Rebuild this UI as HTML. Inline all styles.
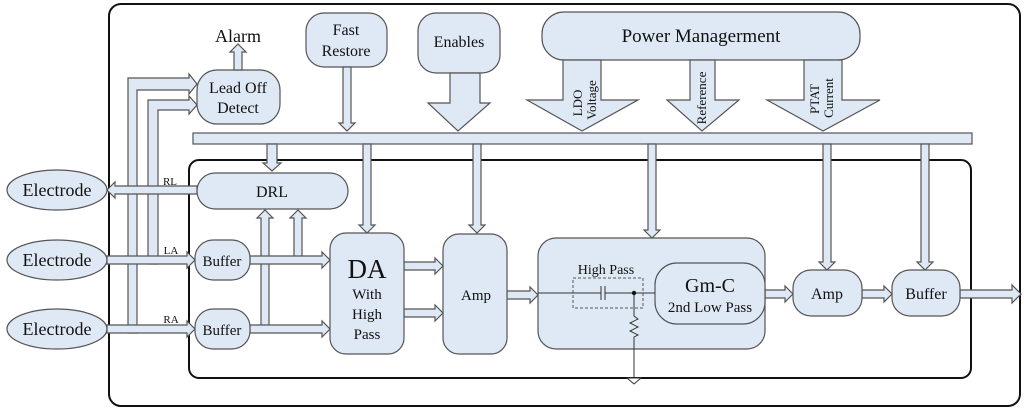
<!DOCTYPE html>
<html><head><meta charset="utf-8"><style>
html,body{margin:0;padding:0;background:#fff;}
svg{display:block;}
text{font-family:"Liberation Serif","Times New Roman",serif;fill:#111;}
</style></head><body>
<svg width="1024" height="410" viewBox="0 0 1024 410" xmlns="http://www.w3.org/2000/svg">
<g fill="none" stroke="#111" stroke-width="2">
<rect x="109" y="4" width="911" height="402" rx="12"/>
<rect x="189" y="160" width="782" height="218" rx="10"/>
</g>
<g fill="#dfe9f5" stroke="#555" stroke-width="1.2">
<rect x="193" y="133" width="779" height="11"/>
<path d="M128 333 V78 H189 V74 L197 84 L189 94 V90 H137 V333 Z"/>
<path d="M148 264 V100 H189 V96 L197 105 L189 114 V110 H158 V264 Z"/>
<ellipse cx="57" cy="190" rx="50" ry="20"/>
<ellipse cx="57" cy="260" rx="50" ry="20"/>
<ellipse cx="57" cy="329" rx="50" ry="20"/>
<rect x="197" y="70" width="83" height="54" rx="20"/>
<rect x="306" y="13" width="81" height="54" rx="18"/>
<rect x="418" y="13" width="82" height="60" rx="18"/>
<rect x="542" y="12" width="318" height="48" rx="22"/>
<path d="M450 73 V103 H428 L458 131 L490 103 H480 V73 Z"/>
<path d="M563 60 V100 H527 L582 131 L638 100 H601 V60 Z"/>
<path d="M690 60 V100 H667 L702 131 L739 100 H715 V60 Z"/>
<path d="M804 60 V100 H767 L823 131 L880 100 H842 V60 Z"/>
<path d="M343 67 V123 H339 L347 131 L355 123 H351 V67 Z"/>
<path d="M267 144 V163 H263 L272 171 L281 163 H277 V144 Z"/>
<path d="M363 144 V225 H359 L367 233 L375 225 H371 V144 Z"/>
<path d="M473 144 V225 H469 L477 233 L485 225 H481 V144 Z"/>
<path d="M648 144 V230 H644 L652 238 L660 230 H656 V144 Z"/>
<path d="M823 144 V262 H819 L827 270 L835 262 H831 V144 Z"/>
<path d="M921 144 V262 H917 L925 270 L933 262 H929 V144 Z"/>
<path d="M234 70 V52 H230 L238 44 L246 52 H242 V70 Z"/>
<path d="M197 186 H115 V182 L107 190 L115 198 V194 H197 Z"/>
<path d="M107 256 H187 V252 L195 260 L187 268 V264 H107 Z"/>
<path d="M107 325 H187 V321 L195 329 L187 337 V333 H107 Z"/>
<path d="M261 329 V218 H257 L265 210 L273 218 H269 V329 Z"/>
<path d="M294 260 V218 H290 L298 210 L306 218 H302 V260 Z"/>
<path d="M250 256 H322 V252 L330 260 L322 268 V264 H250 Z"/>
<path d="M250 325 H322 V321 L330 329 L322 337 V333 H250 Z"/>
<path d="M404 262 H435 V258 L443 266 L435 274 V270 H404 Z"/>
<path d="M404 309 H435 V305 L443 313 L435 321 V317 H404 Z"/>
<path d="M507 291 H530 V287 L538 295 L530 303 V299 H507 Z"/>
<path d="M765 290 H785 V286 L793 294 L785 302 V298 H765 Z"/>
<path d="M862 290 H884 V286 L892 294 L884 302 V298 H862 Z"/>
<path d="M960 290 H1012 V285 L1021 294 L1012 303 V298 H960 Z"/>
<rect x="197" y="173" width="151" height="36" rx="18"/>
<rect x="195" y="240" width="55" height="40" rx="18"/>
<rect x="195" y="309" width="55" height="40" rx="18"/>
<rect x="330" y="233" width="74" height="121" rx="16"/>
<rect x="443" y="234" width="64" height="120" rx="16"/>
<rect x="538" y="238" width="227" height="111" rx="18"/>
<rect x="655" y="263" width="110" height="61" rx="22"/>
<rect x="793" y="270" width="69" height="46" rx="18"/>
<rect x="892" y="270" width="68" height="46" rx="18"/>
</g>
<g fill="none" stroke="#333" stroke-width="1">
<path d="M538 293 H601 M605 293 H655 M601 286 V300 M605 286 V300"/>
<rect x="573" y="278" width="70" height="30" stroke-dasharray="3,2" stroke="#555"/>
<path d="M634 293 V316 L638 319 L630 323 L638 327 L630 331 L638 335 L634 337 V378"/>
<path d="M627 378 H641 L634 384 Z" fill="#fff"/>
</g>
<circle cx="634" cy="293" r="2.2" fill="#111"/>
<g font-family="Liberation Serif, serif" text-anchor="middle">
<text x="238" y="42" font-size="18">Alarm</text>
<text x="238" y="93" font-size="16">Lead Off</text>
<text x="238" y="113" font-size="16">Detect</text>
<text x="346" y="35" font-size="16">Fast</text>
<text x="346" y="56" font-size="16">Restore</text>
<text x="459" y="47" font-size="16">Enables</text>
<text x="701" y="42" font-size="19">Power Managerment</text>
<text x="57" y="196" font-size="18">Electrode</text>
<text x="57" y="266" font-size="18">Electrode</text>
<text x="57" y="335" font-size="18">Electrode</text>
<text x="170" y="185" font-size="11">RL</text>
<text x="171" y="254" font-size="11">LA</text>
<text x="171" y="323" font-size="11">RA</text>
<text x="272" y="197" font-size="16">DRL</text>
<text x="222" y="266" font-size="15">Buffer</text>
<text x="222" y="335" font-size="15">Buffer</text>
<text x="367" y="278" font-size="27">DA</text>
<text x="367" y="299" font-size="15">With</text>
<text x="367" y="319" font-size="15">High</text>
<text x="367" y="339" font-size="15">Pass</text>
<text x="476" y="300" font-size="15">Amp</text>
<text x="606" y="274" font-size="14">High Pass</text>
<text x="710" y="292" font-size="20">Gm-C</text>
<text x="710" y="312" font-size="15">2nd Low Pass</text>
<text x="827" y="299" font-size="16">Amp</text>
<text x="926" y="299" font-size="16">Buffer</text>
<text transform="translate(582,103) rotate(-90)" font-size="13">LDO</text>
<text transform="translate(596,100) rotate(-90)" font-size="13">Voltage</text>
<text transform="translate(706,98) rotate(-90)" font-size="13">Reference</text>
<text transform="translate(819,99) rotate(-90)" font-size="13">PTAT</text>
<text transform="translate(833,98) rotate(-90)" font-size="13">Current</text>
</g>
</svg>
</body></html>
